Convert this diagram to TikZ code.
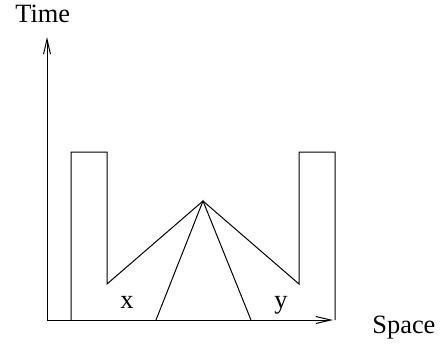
\documentclass[tikz,border=0pt]{standalone}
\usepackage{fontspec}
\setmainfont{Liberation Serif}
\usetikzlibrary{arrows.meta}
\begin{document}
\begin{tikzpicture}[x=0.5pt,y=-0.5pt,
  ln/.style={line width=0.5pt,line join=miter},
  axis/.style={ln,-{Straight Barb[length=7.5pt,width=3.5pt,line width=0.5pt]}},
  lbl/.style={inner sep=0pt,font=\fontsize{13.2pt}{15pt}\selectfont}]
\useasboundingbox (0,0) rectangle (440,345);
\coordinate (O) at (47,320);
\coordinate (T) at (47,37);
\coordinate (S) at (333,320);
\coordinate (a1) at (71,320);
\coordinate (a2) at (71,152);
\coordinate (a3) at (107,152);
\coordinate (a4) at (107,284);
\coordinate (P) at (203,201);
\coordinate (b4) at (299,284);
\coordinate (b3) at (299,152);
\coordinate (b2) at (335,152);
\coordinate (b1) at (335,320);
\coordinate (f1) at (156,320);
\coordinate (f2) at (251,320);
\draw[axis] (O) -- (T);
\draw[axis] (O) -- (S);
\draw[ln] (a1) -- (a2) -- (a3) -- (a4) -- (P) -- (b4) -- (b3) -- (b2) -- (b1);
\draw[ln] (f1) -- (P) -- (f2);
\node[lbl,anchor=base west] (time) at (15,22) {Time};
\node[lbl,anchor=base west] (space) at (372,333) {Space};
\node[lbl,anchor=base] (x) at (127,308) {x};
\node[lbl,anchor=base] (y) at (281,308) {y};
\end{tikzpicture}
\end{document}
